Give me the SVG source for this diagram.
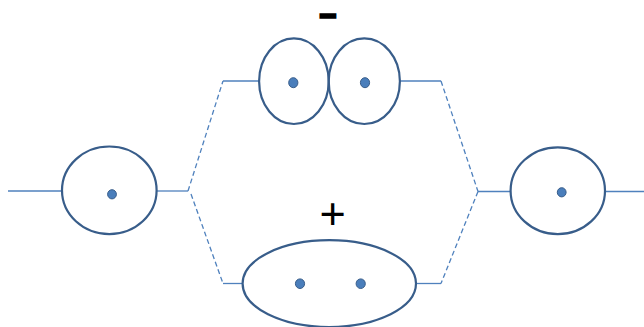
<svg xmlns="http://www.w3.org/2000/svg" width="644" height="327" viewBox="0 0 644 327">
<style>
.orb{fill:none;stroke:#385D8A;stroke-width:2.2}
.dot{fill:#4A7EBB;stroke:#385D8A;stroke-width:1}
.ln{fill:none;stroke:#4F81BD;stroke-width:1.3}
.dash{fill:none;stroke:#4F81BD;stroke-width:1.3;stroke-dasharray:5 3}
.sign{font-family:"Liberation Sans",Arial,sans-serif;fill:#000;text-anchor:middle}
</style>
<rect width="644" height="327" fill="#fff"/>
<g id="connectors">
<line class="ln" x1="8" y1="191" x2="62" y2="191"/>
<line class="ln" x1="157" y1="191" x2="188" y2="191"/>
<line class="ln" x1="223" y1="81" x2="259" y2="81"/>
<line class="ln" x1="400" y1="81" x2="441" y2="81"/>
<line class="ln" x1="223" y1="283.5" x2="243" y2="283.5"/>
<line class="ln" x1="416" y1="283.5" x2="441" y2="283.5"/>
<line class="ln" x1="478" y1="191.5" x2="511" y2="191.5"/>
<line class="ln" x1="605" y1="191.5" x2="644" y2="191.5"/>
<line class="dash" x1="188" y1="191" x2="223" y2="81"/>
<line class="dash" x1="191" y1="194" x2="223" y2="283.5"/>
<line class="dash" x1="441" y1="81" x2="478" y2="191.5"/>
<line class="dash" x1="478" y1="191.5" x2="441" y2="283.5"/>
</g>
<g id="left-atom">
<ellipse class="orb" cx="109.3" cy="190.3" rx="47.3" ry="43.8"/>
<ellipse class="dot" cx="112" cy="194.3" rx="4.4" ry="4.6"/>
</g>
<g id="right-atom">
<ellipse class="orb" cx="557.8" cy="190.7" rx="47.2" ry="43.4"/>
<ellipse class="dot" cx="561.7" cy="192.3" rx="4.4" ry="4.6"/>
</g>
<g id="antibonding">
<ellipse class="orb" cx="293.9" cy="81.2" rx="34.8" ry="42.8"/>
<ellipse class="orb" cx="364.3" cy="81.2" rx="35.6" ry="42.8"/>
<ellipse class="dot" cx="293.3" cy="82.7" rx="4.6" ry="5"/>
<ellipse class="dot" cx="365" cy="82.7" rx="4.6" ry="5"/>
<text class="sign" transform="translate(328,0) scale(1.79,1)" x="0" y="22.5" font-size="24" stroke="#000" stroke-width="3.6">-</text>
</g>
<g id="bonding">
<ellipse class="orb" cx="329.3" cy="283.6" rx="86.7" ry="43.4"/>
<ellipse class="dot" cx="300" cy="283.7" rx="4.6" ry="4.8"/>
<ellipse class="dot" cx="360.7" cy="283.7" rx="4.6" ry="4.8"/>
<text class="sign" x="332.7" y="228.7" font-size="45">+</text>
</g>
</svg>
